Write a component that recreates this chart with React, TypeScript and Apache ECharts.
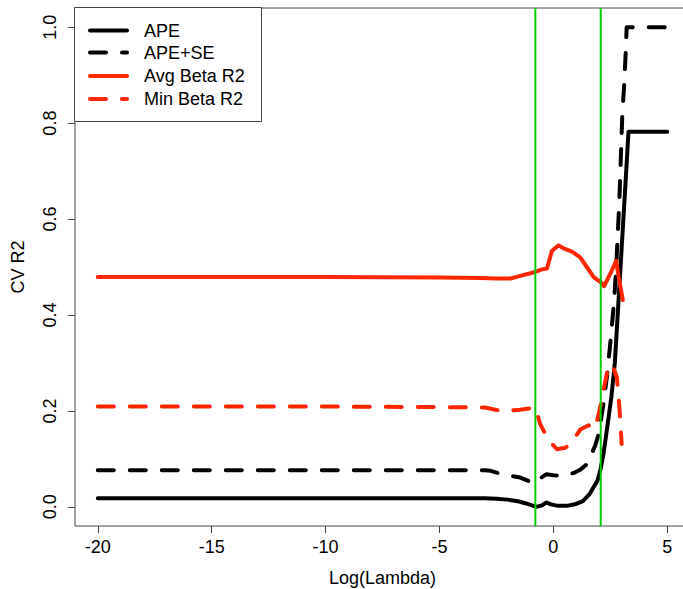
import React, { useEffect, useRef } from "react";
import * as echarts from "echarts";

const seriesNames = ["APE", "APE+SE", "Avg Beta R2", "Min Beta R2"];

const apeX = [-20, -15, -10, -5, -3, -2.5, -2, -1.5, -1.2, -1.0, -0.75, -0.5, -0.3, -0.1, 0.2, 0.6, 1.0, 1.3, 1.6, 1.94, 2.08, 2.2, 2.35, 2.55, 2.7, 2.85, 3.0, 3.15, 3.3, 5];
const apeY = [0.018, 0.018, 0.018, 0.018, 0.0178, 0.017, 0.015, 0.011, 0.007, 0.004, 0.0, 0.003, 0.009, 0.005, 0.002, 0.002, 0.006, 0.012, 0.027, 0.055, 0.08, 0.11, 0.16, 0.23, 0.30, 0.42, 0.54, 0.66, 0.782, 0.782];

const apeSeX = [-20, -15, -10, -5, -3, -2.75, -2.4, -2, -1.45, -1.0, -0.75, -0.5, -0.3, 0, 0.23, 0.6, 0.96, 1.2, 1.5, 1.84, 1.99, 2.18, 2.35, 2.5, 2.67, 2.76, 2.9, 3.03, 3.11, 3.18, 3.22, 5];
const apeSeY = [0.076, 0.076, 0.076, 0.076, 0.076, 0.075, 0.070, 0.066, 0.061, 0.052, 0.050, 0.062, 0.068, 0.066, 0.065, 0.066, 0.072, 0.078, 0.09, 0.128, 0.152, 0.208, 0.27, 0.34, 0.43, 0.5, 0.64, 0.82, 0.88, 0.95, 1.0, 1.0];

const avgX = [-20, -15, -10, -5, -3.2, -2.5, -1.88, -1.5, -1.0, -0.79, -0.5, -0.28, -0.06, 0.23, 0.45, 0.82, 1.18, 1.47, 1.77, 2.06, 2.23, 2.5, 2.76, 2.87, 3.05];
const avgY = [0.479, 0.479, 0.479, 0.478, 0.477, 0.476, 0.476, 0.481, 0.487, 0.49, 0.495, 0.497, 0.534, 0.545, 0.539, 0.532, 0.52, 0.50, 0.479, 0.469, 0.46, 0.486, 0.513, 0.479, 0.431];

const minX = [-20, -15, -10, -5, -3, -2.54, -2.18, -1.8, -1.45, -1.08, -0.79, -0.58, -0.25, 0.16, 0.53, 0.82, 1.18, 1.55, 1.84, 2.06, 2.2, 2.35, 2.57, 2.79, 2.9, 3.0];
const minY = [0.209, 0.209, 0.209, 0.208, 0.207, 0.2025, 0.199, 0.201, 0.2025, 0.205, 0.207, 0.173, 0.142, 0.12, 0.123, 0.135, 0.161, 0.17, 0.163, 0.208, 0.243, 0.278, 0.298, 0.27, 0.208, 0.131];

const greenX = [-0.79, 2.08];

const xTicks = [-20, -15, -10, -5, 0, 5];
const yTicks = [0, 0.2, 0.4, 0.6, 0.8, 1.0];

const BLACK = "#000000";
const RED = "#ff2600";
const GREEN = "#00cd00";
const AXIS = "#444444";
const FONT = "'Liberation Sans', Arial, sans-serif";

const zip = (xs: number[], ys: number[]) => xs.map((x, i) => [x, ys[i]]);

export default function App() {
  const ref = useRef<HTMLDivElement>(null);
  useEffect(() => {
    if (!ref.current) return;
    const chart = echarts.init(ref.current, undefined, { renderer: "svg" });
    const colors = [BLACK, BLACK, RED, RED];
    const dashed = [false, true, false, true];
    const datas = [zip(apeX, apeY), zip(apeSeX, apeSeY), zip(avgX, avgY), zip(minX, minY)];

    const lineSeries: any[] = seriesNames.map((name, i) => ({
      name,
      type: "line",
      data: datas[i],
      showSymbol: false,
      symbol: "none",
      smooth: false,
      lineStyle: {
        color: colors[i],
        width: 4,
        type: dashed[i] ? [16, 16] : "solid",
        cap: "round",
        join: "round",
      },
      z: 2,
    }));

    const greenSeries: any[] = greenX.map((gx, i) => ({
      name: "g" + i,
      type: "line",
      data: [[gx, -0.04], [gx, 1.04]],
      showSymbol: false,
      symbol: "none",
      lineStyle: { color: GREEN, width: 2 },
      z: 3,
    }));

    const legendLeft = 74.5;
    const legendTop = 7.5;
    const rowY = [30.5, 52.5, 76, 99];
    const legendGraphics: any[] = [
      {
        type: "rect",
        shape: { x: legendLeft, y: legendTop, width: 187, height: 114 },
        style: { fill: "#fff", stroke: AXIS, lineWidth: 1 },
        z: 10,
      },
    ];
    seriesNames.forEach((name, i) => {
      legendGraphics.push({
        type: "line",
        shape: { x1: 90, y1: rowY[i], x2: 127, y2: rowY[i] },
        style: {
          stroke: colors[i],
          lineWidth: 4,
          lineDash: dashed[i] ? [16, 16] : null,
          lineCap: "round",
        },
        z: 11,
      });
      legendGraphics.push({
        type: "text",
        x: 144,
        y: rowY[i],
        style: {
          text: name,
          fill: "#000",
          fontSize: 18,
          fontFamily: FONT,
          verticalAlign: "middle",
          align: "left",
        },
        z: 11,
      });
    });

    chart.setOption({
      animation: false,
      backgroundColor: "#ffffff",
      textStyle: { fontFamily: FONT },
      grid: {
        left: 75,
        top: 8,
        right: -7,
        bottom: 63,
        outerBoundsMode: "none",
        containLabel: false,
        show: true,
        borderColor: AXIS,
        borderWidth: 1,
        backgroundColor: "transparent",
      },
      xAxis: {
        type: "value",
        min: -21,
        max: 6,
        name: "Log(Lambda)",
        nameLocation: "middle",
        nameGap: 43,
        nameTextStyle: { fontSize: 18, color: "#000", fontFamily: FONT },
        axisLine: { show: false, onZero: false },
        axisTick: { show: true, length: 7, customValues: xTicks, lineStyle: { color: AXIS } },
        axisLabel: { customValues: xTicks, fontSize: 18, color: "#000", margin: 12, fontFamily: FONT },
        splitLine: { show: false },
      },
      yAxis: {
        type: "value",
        min: -0.04,
        max: 1.04,
        name: "CV R2",
        nameLocation: "middle",
        nameGap: 48,
        nameTextStyle: { fontSize: 18, color: "#000", fontFamily: FONT },
        axisLine: { show: false, onZero: false },
        axisTick: { show: true, length: 7, customValues: yTicks, lineStyle: { color: AXIS } },
        axisLabel: {
          customValues: yTicks,
          rotate: 90,
          fontSize: 18,
          color: "#000",
          margin: 16,
          fontFamily: FONT,
          formatter: (v: number) => v.toFixed(1),
        },
        splitLine: { show: false },
      },
      series: [...lineSeries, ...greenSeries],
      graphic: legendGraphics,
    });
    return () => chart.dispose();
  }, []);
  return <div ref={ref} style={{ position: "absolute", left: 0, top: 0, width: 683, height: 589 }} />;
}
